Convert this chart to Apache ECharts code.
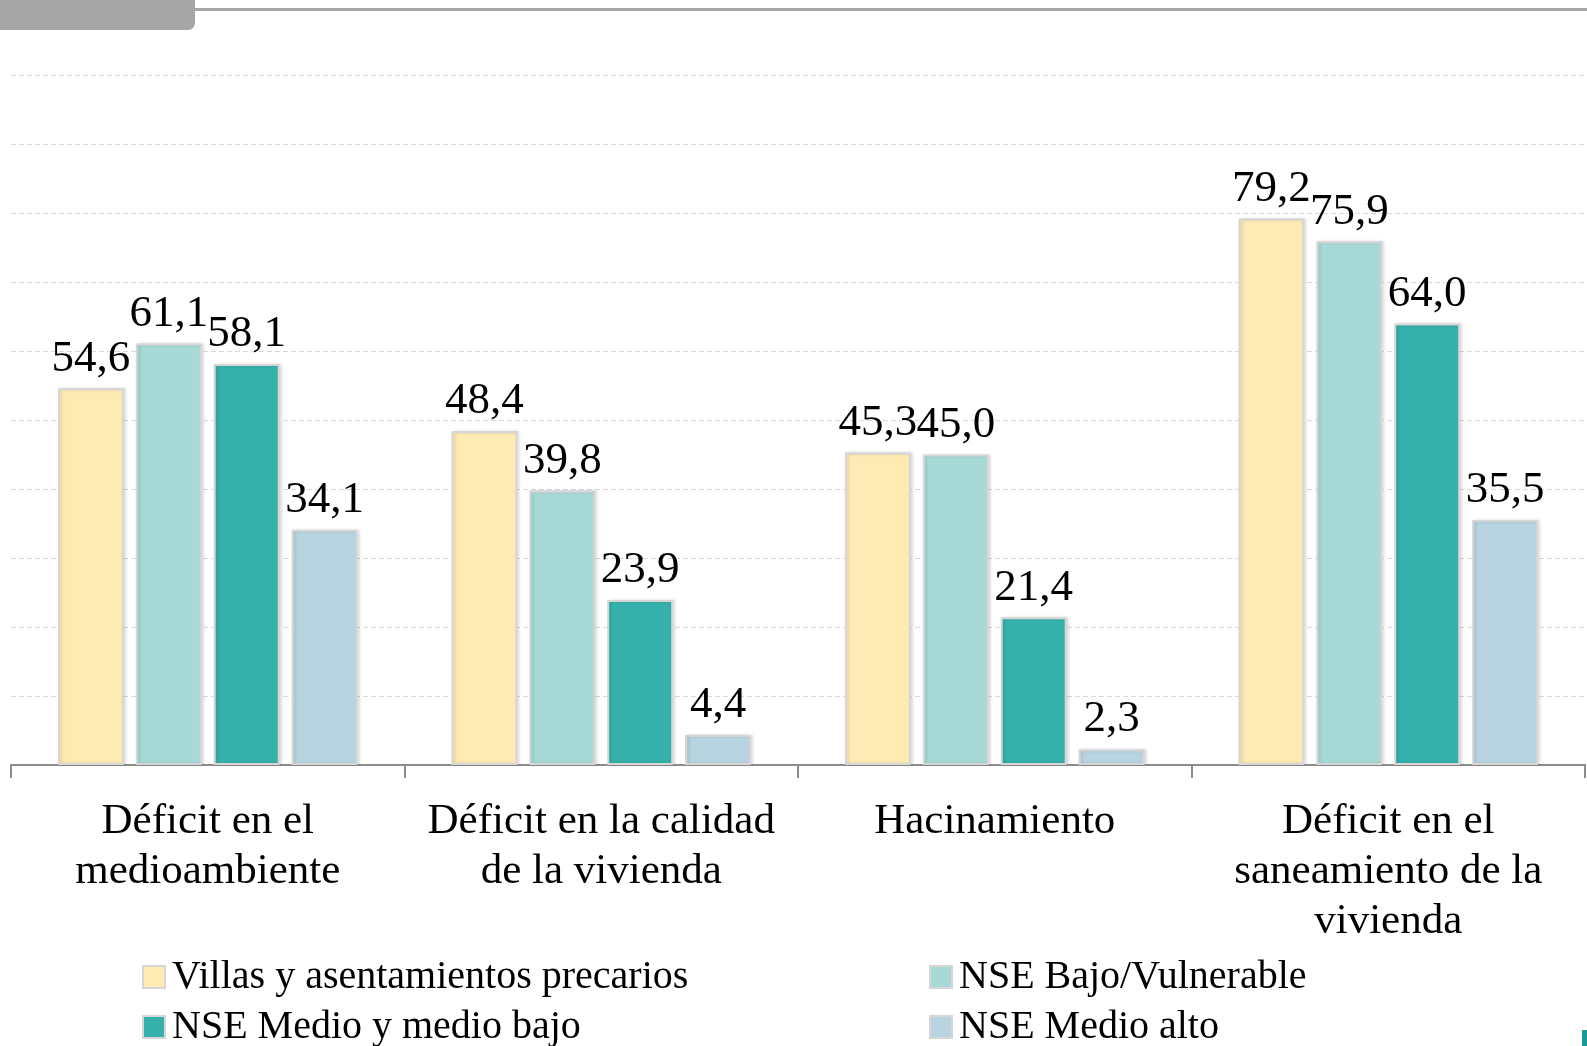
<!DOCTYPE html>
<html>
<head>
<meta charset="utf-8">
<script src="https://cdn.jsdelivr.net/npm/echarts@6/dist/echarts.min.js"></script>
<style>
html,body{margin:0;padding:0;background:#fff;}
#chart{width:1587px;height:1046px;}
</style>
</head>
<body>
<div id="chart"></div>
<script>
const categories = ["Déficit en el\nmedioambiente", "Déficit en la calidad\nde la vivienda", "Hacinamiento", "Déficit en el\nsaneamiento de la\nvivienda"];
const seriesNames = ["Villas y asentamientos precarios", "NSE Bajo/Vulnerable", "NSE Medio y medio bajo", "NSE Medio alto"];
const villas = [54.6, 48.4, 45.3, 79.2];
const nseBajo = [61.1, 39.8, 45.0, 75.9];
const nseMedioBajo = [58.1, 23.9, 21.4, 64.0];
const nseMedioAlto = [34.1, 4.4, 2.3, 35.5];
const seriesValues = [villas, nseBajo, nseMedioBajo, nseMedioAlto];
const colors = ["#FEEAB3", "#A7D9D6", "#36B0AB", "#B7D4E0"];

const FONT = "Liberation Serif";
const chart = echarts.init(document.getElementById('chart'), null, {renderer: 'canvas'});

const series = seriesNames.map((name, i) => ({
  name: name,
  type: 'bar',
  data: seriesValues[i],
  barWidth: 66,
  barGap: '18%',
  itemStyle: {
    color: colors[i],
    borderColor: '#d6d6d6',
    borderWidth: 2,
    shadowColor: 'rgba(0,0,0,0.12)',
    shadowBlur: 3,
    shadowOffsetX: 2,
    shadowOffsetY: 0
  },
  label: {
    show: true,
    position: 'top',
    distance: 7,
    fontFamily: FONT,
    fontSize: 45,
    color: '#000',
    formatter: p => p.value.toFixed(1).replace('.', ',')
  }
}));

const legendPos = [
  {name: seriesNames[0], left: 142, top: 957},
  {name: seriesNames[1], left: 929, top: 957},
  {name: seriesNames[2], left: 142, top: 1007},
  {name: seriesNames[3], left: 929, top: 1007}
];

chart.setOption({
  animation: false,
  backgroundColor: '#fff',
  grid: {left: 11, right: 2, top: 75, bottom: 281, containLabel: false},
  legend: legendPos.map(l => ({
    data: [l.name],
    left: l.left,
    top: l.top,
    itemWidth: 22,
    itemHeight: 22,
    itemGap: 0,
    padding: 0,
    selectedMode: false,
    icon: 'rect',
    textStyle: {fontFamily: FONT, fontSize: 40, color: '#000', padding: [0, 0, 0, 2]}
  })),
  xAxis: {
    type: 'category',
    data: categories,
    axisLine: {lineStyle: {color: '#8c8c8c', width: 2}},
    axisTick: {show: true, length: 13, lineStyle: {color: '#8c8c8c', width: 2}},
    axisLabel: {
      interval: 0,
      fontFamily: FONT,
      fontSize: 43,
      lineHeight: 50,
      color: '#000',
      margin: 32
    }
  },
  yAxis: {
    type: 'value',
    min: 0,
    max: 100,
    interval: 10,
    axisLine: {show: false},
    axisTick: {show: false},
    axisLabel: {show: false},
    splitLine: {lineStyle: {color: '#d9d9d9', type: [5, 3], width: 1}}
  },
  series: series,
  graphic: [
    {type: 'rect', shape: {x: -10, y: -10, width: 205, height: 40, r: 7}, style: {fill: '#a6a6a6'}},
    {type: 'rect', shape: {x: 190, y: 8, width: 1400, height: 3}, style: {fill: '#a6a6a6'}},
    {type: 'rect', shape: {x: 1582, y: 1030, width: 10, height: 20}, style: {fill: '#1a9a95'}}
  ]
});
</script>
</body>
</html>
